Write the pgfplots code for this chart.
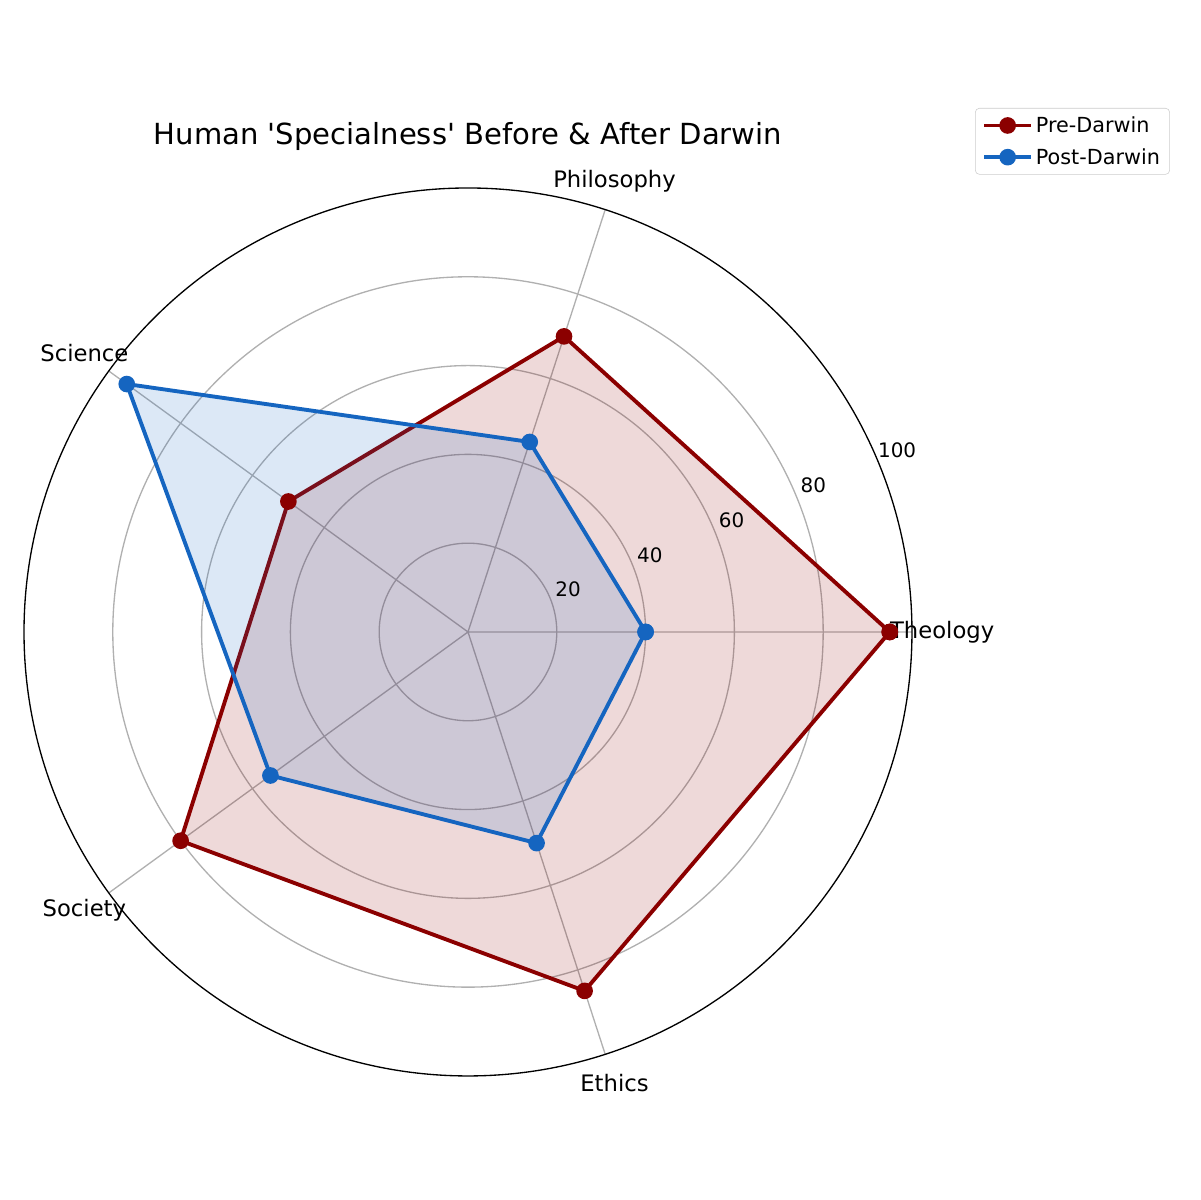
\documentclass[border=0pt]{standalone}
\usepackage{fontspec}
\setmainfont{DejaVu Sans}
\newfontfamily\plainfont{DejaVu Sans}
\usepackage{pgfplots}
\pgfplotsset{compat=1.18}
\usepgfplotslibrary{polar}
\definecolor{pre}{HTML}{8B0000}
\definecolor{post}{HTML}{1565C0}
\definecolor{gridc}{HTML}{B0B0B0}

\begin{document}
\begin{tikzpicture}
\begin{polaraxis}[
    scale only axis,
    width=641.7pt, height=641.7pt,
    xmin=0, xmax=360, ymin=0, ymax=100,
    xtick={0,72,144,216,288},
    ytick={20,40,60,80},
    xticklabels={,,,,}, yticklabels={,,,},
    major tick length=0pt,
    grid=major,
    major grid style={draw=gridc, line width=0.96pt},
    x axis line style={black, line width=0.96pt},
    y axis line style={draw=none},
    clip=false,
    legend style={at={(1.2905,1.0901)}, anchor=north east,
        draw=black!20, rounded corners=3pt, fill=white,
        font=\fontsize{15}{18}\selectfont,
        cells={anchor=west}, row sep=6pt,
        inner xsep=5pt, inner ysep=4pt,
        /tikz/every even column/.append style={column sep=5pt}},
    legend image code/.code={
        \draw[mark repeat=2,mark phase=2] plot coordinates {(0pt,0pt)(17pt,0pt)(34pt,0pt)};},
]
% Pre-Darwin
\addplot[forget plot, draw=none, fill=pre, fill opacity=0.15]
    coordinates {(0,95)(72,70)(144,50)(216,80)(288,85)(360,95)} -- cycle;
\addplot[pre, line width=2.8pt, mark=*, mark size=4.6pt, mark options={solid}]
    coordinates {(0,95)(72,70)(144,50)(216,80)(288,85)(360,95)};
\addlegendentry{Pre-Darwin}
% Post-Darwin
\addplot[forget plot, draw=none, fill=post, fill opacity=0.15]
    coordinates {(0,40)(72,45)(144,95)(216,55)(288,50)(360,40)} -- cycle;
\addplot[post, line width=2.8pt, mark=*, mark size=4.6pt, mark options={solid}]
    coordinates {(0,40)(72,45)(144,95)(216,55)(288,50)(360,40)};
\addlegendentry{Post-Darwin}

\coordinate (O) at (axis cs:0,0);
% category labels
\begin{scope}[font=\fontsize{16.4}{19.7}\selectfont]
\node at (axis cs:0,106.8) {Theology};
\node at (axis cs:72,106.8) {Philosophy};
\node at (axis cs:144,106.8) {Science};
\node at (axis cs:216,106.8) {Society};
\node at (axis cs:288,106.8) {Ethics};
\end{scope}
% radial labels
\begin{scope}[font=\fontsize{14.4}{17.3}\selectfont]
\node at (axis cs:23,24.5) {20};
\node at (axis cs:23,44.5) {40};
\node at (axis cs:23,64.5) {60};
\node at (axis cs:23,84.5) {80};
\node at (axis cs:23,105) {100};
\end{scope}
\node[font=\plainfont\fontsize{21}{25}\selectfont] at (axis cs:90,111.5) {Human 'Specialness' Before \& After Darwin};
\end{polaraxis}
\pgfresetboundingbox
\path[use as bounding box] ([shift={(-338.2pt,-410.5pt)}]O) rectangle ([shift={(529.0pt,456.7pt)}]O);
\end{tikzpicture}
\end{document}
